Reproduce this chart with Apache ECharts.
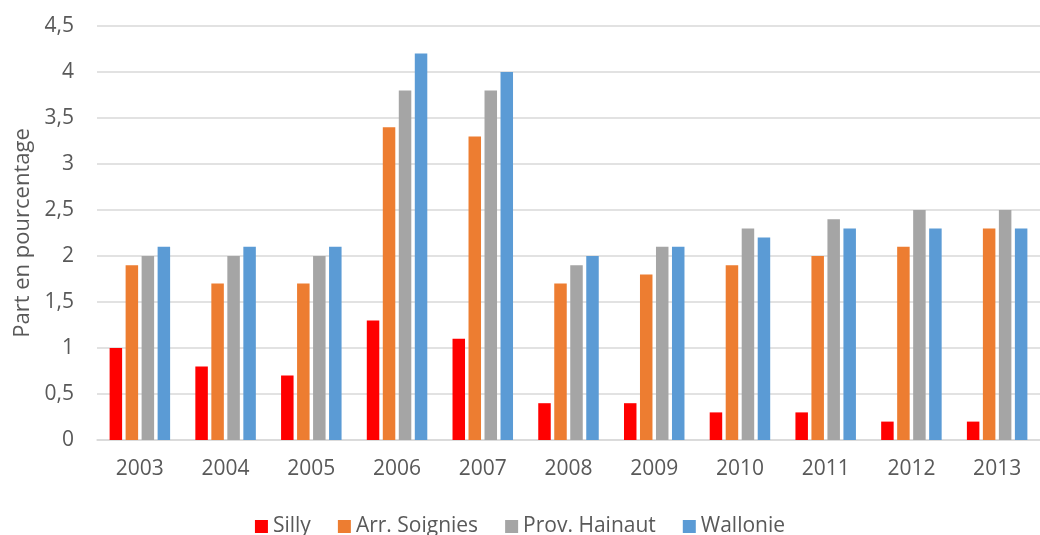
<!DOCTYPE html>
<html>
<head>
<meta charset="utf-8">
<script src="https://cdn.jsdelivr.net/npm/echarts@6/dist/echarts.min.js"></script>
<style>
html,body{margin:0;padding:0;background:#fff;}
#chart{width:1040px;height:535px;}
</style>
</head>
<body>
<div id="chart"></div>
<script>
const years = ['2003','2004','2005','2006','2007','2008','2009','2010','2011','2012','2013'];
const silly = [1, 0.8, 0.7, 1.3, 1.1, 0.4, 0.4, 0.3, 0.3, 0.2, 0.2];
const soignies = [1.9, 1.7, 1.7, 3.4, 3.3, 1.7, 1.8, 1.9, 2.0, 2.1, 2.3];
const hainaut = [2.0, 2.0, 2.0, 3.8, 3.8, 1.9, 2.1, 2.3, 2.4, 2.5, 2.5];
const wallonie = [2.1, 2.1, 2.1, 4.2, 4.0, 2.0, 2.1, 2.2, 2.3, 2.3, 2.3];
const seriesNames = ['Silly', 'Arr. Soignies', 'Prov. Hainaut', 'Wallonie'];
const colors = ['#FF0000', '#ED7D31', '#A5A5A5', '#5B9BD5'];

const font = '"Open Sans", "Noto Sans", sans-serif';
const chart = echarts.init(document.getElementById('chart'), null, {renderer: 'canvas'});
const data = [silly, soignies, hainaut, wallonie];
chart.setOption({
  animation: false,
  textStyle: {fontFamily: font},
  grid: {left: 97, right: -14, top: 26, bottom: 95, containLabel: false},
  legend: {
    top: 511, left: 'center',
    itemWidth: 13, itemHeight: 13, itemGap: 27,
    icon: 'rect',
    textStyle: {fontSize: 21, color: '#595959', fontFamily: font},
    data: seriesNames
  },
  xAxis: {
    type: 'category', data: years,
    axisLine: {lineStyle: {color: '#D9D9D9', width: 1.5}},
    axisTick: {show: false},
    axisLabel: {fontSize: 21, color: '#595959', margin: 19, fontFamily: font}
  },
  yAxis: {
    type: 'value', min: 0, max: 4.5, interval: 0.5,
    name: 'Part en pourcentage', nameLocation: 'middle', nameGap: 63,
    nameTextStyle: {fontSize: 22, color: '#595959', fontFamily: font},
    axisLine: {show: false}, axisTick: {show: false},
    axisLabel: {fontSize: 21, color: '#595959', margin: 23, fontFamily: font,
      formatter: v => String(v).replace('.', ',')},
    splitLine: {lineStyle: {color: '#D9D9D9', width: 1.5}}
  },
  series: data.map((d, i) => ({
    name: seriesNames[i], type: 'bar', data: d,
    barWidth: 12.5, barGap: '28%',
    itemStyle: {color: colors[i]}
  }))
});
</script>
</body>
</html>
